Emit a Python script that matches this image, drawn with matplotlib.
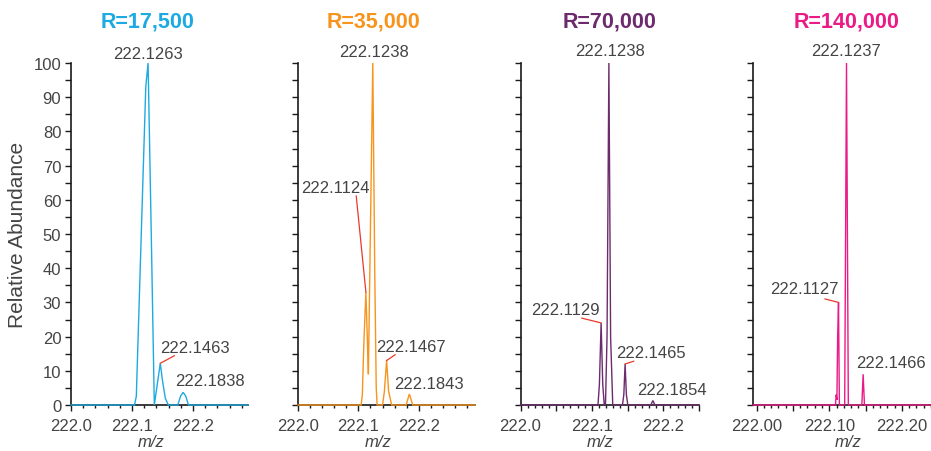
import matplotlib
matplotlib.use("Agg")
import matplotlib.pyplot as plt
import matplotlib.transforms as mtransforms
from matplotlib.ticker import MultipleLocator, FuncFormatter

plt.rcParams['font.family'] = ['Liberation Sans', 'DejaVu Sans']

# ---------------- data ----------------
titles = ["R=17,500", "R=35,000", "R=70,000", "R=140,000"]

# profile vertices: m/z and relative abundance
mz1 = [222.000, 222.104, 222.107, 222.1225, 222.1263, 222.1315, 222.1365, 222.1463,
       222.1500, 222.1545, 222.1595, 222.1750, 222.1795, 222.1838, 222.1880, 222.1925, 222.290]
ab1 = [0, 0, 2.5, 93, 100, 50, 0, 12.2, 7, 2, 0, 0, 2.6, 3.7, 2.6, 0, 0]

mz2 = [222.000, 222.1045, 222.1065, 222.1090, 222.1124, 222.1150, 222.1165, 222.1238,
       222.1270, 222.1295, 222.1310, 222.1400, 222.1430, 222.1467, 222.1500, 222.1550,
       222.1790, 222.1843, 222.1900, 222.293]
ab2 = [0, 0, 3, 18, 33, 18, 9, 100, 40, 5, 0, 0, 4, 13, 4, 0, 0, 3.2, 0, 0]

mz3 = [222.000, 222.1085, 222.1105, 222.1129, 222.1152, 222.1173, 222.1190, 222.1212,
       222.1238, 222.1262, 222.1292, 222.1428, 222.1447, 222.1465, 222.1483, 222.1503,
       222.1825, 222.1854, 222.1883, 222.250]
ab3 = [0, 0, 6, 24, 6, 0, 0, 20, 100, 20, 0, 0, 3, 12, 3, 0, 0, 1.3, 0, 0]

mz4 = [221.995, 222.1085, 222.1095, 222.1105, 222.1115, 222.1127, 222.1139, 222.1212,
       222.1237, 222.1262, 222.1448, 222.1466, 222.1484, 222.240]
ab4 = [0, 0, 3, 1.5, 20, 30, 0, 0, 100, 0, 0, 9, 0, 0]

mz_data = [mz1, mz2, mz3, mz4]
ab_data = [ab1, ab2, ab3, ab4]

# peak labels (text) and the apex each one points to
peak_labels = [
    ["222.1263", "222.1463", "222.1838"],
    ["222.1238", "222.1124", "222.1467", "222.1843"],
    ["222.1238", "222.1129", "222.1465", "222.1854"],
    ["222.1237", "222.1127", "222.1466"],
]
peak_heights = [
    [100, 12.2, 3.7],
    [100, 33, 13, 3.2],
    [100, 24, 12, 1.3],
    [100, 30, 9],
]

y_ticks = [0, 10, 20, 30, 40, 50, 60, 70, 80, 90, 100]

# ---------------- layout / style ----------------
colors = ["#1DAAE2", "#F7941D", "#6C2B6C", "#EA1A86"]
leader_color = "#E8392B"
text_color = "#444444"
axis_color = "#1a1a1a"

W, H = 931, 452
rects_px = [(71, 248), (298, 475), (520.5, 699), (753, 931)]
top_px, bot_px = 64, 406
xlims = [(222.0, 222.29), (222.0, 222.293), (222.0, 222.25), (221.995, 222.24)]
x_major = [0.1, 0.1, 0.05, 0.05]
x_minor = [0.02, 0.02, 0.01, 0.01]
x_fmt = ["%.1f", "%.1f", "%.1f", "%.2f"]

# label text positions (x centre, y baseline) in data coords
label_pos = [
    [(222.1257, 101.4), (222.2033, 15.4), (222.2282, 5.85)],
    [(222.1253, 102.1), (222.0611, 62.3), (222.1868, 15.9), (222.2173, 4.96)],
    [(222.1251, 102.4), (222.0631, 26.7), (222.1828, 14.0), (222.2114, 3.2)],
    [(222.1234, 102.2), (222.0655, 32.7), (222.1855, 11.1)],
]
# leader lines: (label index, end point x, end point y)
leaders = [
    [(1, 222.1693, 14.4)],
    [(1, 222.0964, 61.1), (2, 222.1608, 14.7)],
    [(1, 222.0859, 25.4), (2, 222.1586, 12.8)],
    [(1, 222.0942, 31.0)],
]
title_x = [222.1257, 222.1253, 222.1251, 222.1234]
mz_label_x = [222.132, 222.133, 222.112, 222.126]

fig = plt.figure(figsize=(W / 100, H / 100), dpi=100)

for i in range(4):
    l, r = rects_px[i]
    ax = fig.add_axes([l / W, 1 - bot_px / H, (r - l) / W, (bot_px - top_px) / H])
    c = colors[i]
    ax.plot(mz_data[i], ab_data[i], color=c, lw=1.0, clip_on=False, zorder=5,
            solid_joinstyle='miter')
    ax.set_xlim(*xlims[i])
    ax.set_ylim(0, 100)
    for s in ("top", "right"):
        ax.spines[s].set_visible(False)
    for s in ("left", "bottom"):
        ax.spines[s].set_linewidth(1.2)
        ax.spines[s].set_color(axis_color)

    ax.yaxis.set_major_locator(MultipleLocator(10))
    ax.yaxis.set_minor_locator(MultipleLocator(5))
    ax.set_yticks(y_ticks)
    ax.xaxis.set_major_locator(MultipleLocator(x_major[i]))
    ax.xaxis.set_minor_locator(MultipleLocator(x_minor[i]))
    fmt = x_fmt[i]

    def _f(v, pos, fmt=fmt):
        if abs(round(v * 10) - v * 10) < 1e-6:
            return fmt % v
        return ""
    ax.xaxis.set_major_formatter(FuncFormatter(_f))

    ax.tick_params(axis='x', which='major', direction='out', length=4.3, width=1,
                   color=axis_color, labelcolor=text_color, labelsize=12, pad=5)
    ax.tick_params(axis='x', which='minor', direction='out', length=2.4, width=1,
                   color=axis_color)
    ax.tick_params(axis='y', which='both', direction='out', length=4, width=1,
                   color=axis_color, labelcolor=text_color, labelsize=12, pad=3)
    if i > 0:
        ax.tick_params(axis='y', labelleft=False)
    ax.patch.set_alpha(0)

    # peak labels
    for (txt, (tx, ty)) in zip(peak_labels[i], label_pos[i]):
        ax.text(tx, ty, txt, ha='center', va='baseline', fontsize=12,
                color=text_color, clip_on=False)
    # leader lines from peak apex to label
    for (k, ex, ey) in leaders[i]:
        px_ = float(peak_labels[i][k])
        py_ = peak_heights[i][k]
        ax.plot([px_, ex], [py_, ey], color=leader_color, lw=0.9, clip_on=False, zorder=6)

    trans = mtransforms.blended_transform_factory(ax.transData, fig.transFigure)
    ax.text(title_x[i], 1 - 27.7 / H, titles[i], transform=trans, ha='center',
            va='baseline', fontsize=15.5, fontweight='bold', color=c)
    ax.text(mz_label_x[i], 1 - 443 / H, "m/z", transform=trans, ha='center',
            va='center', fontsize=12, style='italic', color=text_color)

fig.text(18 / W, 1 - 235 / H, "Relative Abundance", rotation=90, ha='center',
         va='center', fontsize=15, color=text_color)

fig.savefig("out.png", dpi=100)
